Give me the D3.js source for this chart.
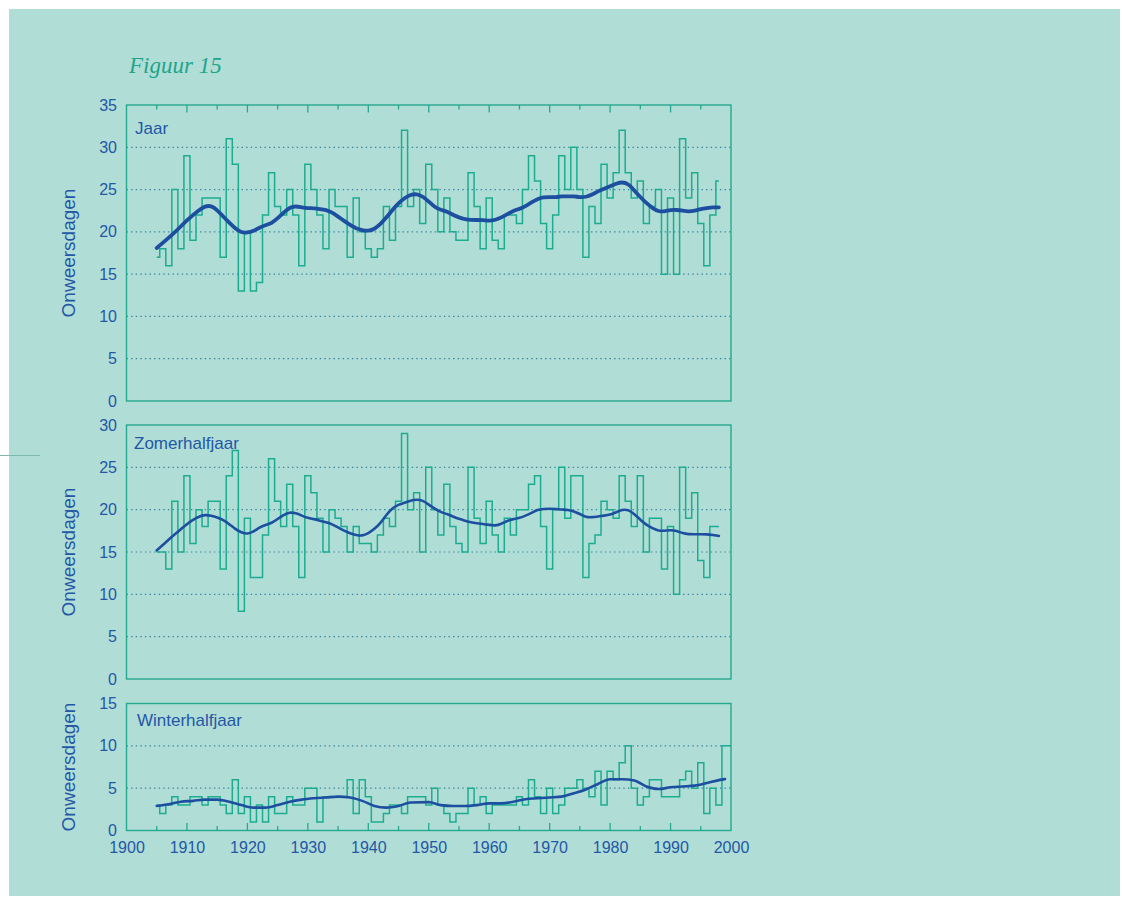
<!DOCTYPE html>
<html><head><meta charset="utf-8">
<script src="https://cdn.jsdelivr.net/npm/d3@7"></script>
<style>
html,body{margin:0;padding:0;background:#fff;}
svg{display:block;}
</style></head>
<body>
<svg id="chart" width="1122" height="898"></svg>
<script>
// ---------- DATA ----------
const yearsMain = d3.range(1905, 1999);          // 1905..1998
const yearsWinter = d3.range(1905, 2001);        // 1905..2000
const xTickLabels = [1900,1910,1920,1930,1940,1950,1960,1970,1980,1990,2000];

const jaarValues = [17,18,16,25,18,29,19,22,24,24, 24,17,31,28,13,20,13,14,22,27,
                    23,22,25,22,16,28,25,22,18,25, 23,23,17,24,20,18,17,18,23,19,
                    23,32,23,25,21,28,25,20,24,20, 19,19,27,23,18,24,19,18,22,22,
                    21,25,29,26,21,18,22,29,25,30, 25,17,23,21,28,24,27,32,27,24,
                    26,21,23,25,15,24,15,31,24,27, 21,16,22,26];
const zomerValues = [15,15,13,21,15,24,16,20,18,21, 21,13,24,27,8,19,12,12,17,26,
                     21,18,23,18,12,24,22,19,15,20, 19,18,15,18,16,16,15,17,19,18,
                     21,29,20,22,15,25,20,17,23,18, 16,15,25,19,16,21,17,15,19,17,
                     20,20,23,24,18,13,20,25,19,24, 24,12,16,17,21,20,19,24,21,18,
                     24,15,19,19,13,18,10,25,19,22, 14,12,18,18];
const winterValues = [3,2,3,4,3,3,4,4,3,4, 4,3,2,6,2,4,1,3,1,4,
                      2,2,4,3,3,5,5,1,4,4, 4,4,6,2,6,4,1,1,2,3,
                      3,2,4,4,4,3,5,3,2,1, 2,2,5,3,4,2,3,3,3,3,
                      4,3,6,4,2,5,2,3,5,5, 6,5,4,7,3,7,6,8,10,5,
                      3,4,6,6,4,4,4,6,7,5, 8,2,5,3,10,10];

const jaarTrendYears = [1905,1908,1910,1912,1913,1914,1915,1916,1917,1918,1919,1920,1921,1922,1923,1924,1925,1926,1927,1928,1929,1930,1931,1932,1933,1934,1935,1936,1937,1938,1939,1940,1941,1942,1943,1944,1945,1946,1947,1948,1949,1950,1951,1952,1953,1954,1955,1956,1957,1958,1959,1960,1961,1962,1963,1964,1965,1966,1967,1968,1969,1970,1971,1972,1973,1974,1975,1976,1977,1978,1979,1980,1981,1982,1983,1984,1985,1986,1987,1988,1989,1990,1991,1992,1993,1994,1995,1996,1997,1998];
const jaarTrend = [18.1,19.9,21.4,22.6,23.05,23.1,22.6,21.8,21.1,20.4,19.9,19.9,20.1,20.5,20.8,21.0,21.6,22.3,22.9,23.05,22.9,22.8,22.8,22.7,22.6,22.3,21.8,21.3,20.8,20.4,20.2,20.1,20.3,20.9,21.7,22.6,23.4,24.0,24.4,24.5,24.2,23.6,22.9,22.6,22.4,22.0,21.7,21.5,21.4,21.4,21.4,21.3,21.4,21.7,22.1,22.5,22.7,23.0,23.5,23.9,24.1,24.1,24.1,24.2,24.2,24.2,24.1,24.1,24.4,24.8,25.1,25.4,25.7,25.9,25.7,24.9,24.1,23.4,22.8,22.4,22.4,22.6,22.6,22.5,22.4,22.5,22.7,22.8,22.9,22.9];

const zomerTrendYears = d3.range(1905, 1999);
const zomerTrend = [15.2,15.8,16.5,17.1,17.7,18.3,18.8,19.2,19.4,19.3, 19.1,18.8,18.3,17.7,17.3,17.1,17.4,17.9,18.2,18.4,
                    18.9,19.4,19.7,19.6,19.3,19.0,18.9,18.7,18.5,18.3, 17.9,17.5,17.2,17.0,16.9,17.2,17.7,18.4,19.4,20.2,
                    20.6,20.8,21.1,21.2,21.1,20.6,20.1,19.7,19.5,19.2, 18.9,18.7,18.5,18.4,18.3,18.2,18.1,18.3,18.7,18.9,
                    19.0,19.3,19.6,20.0,20.1,20.1,20.1,20.0,20.0,19.8, 19.5,19.1,19.1,19.2,19.3,19.4,19.7,20.0,20.0,19.5,
                    18.8,18.2,17.8,17.5,17.5,17.6,17.5,17.2,17.1,17.1, 17.1,17.1,17.0,16.9];

const winterTrendYears = [1905,1907,1909,1911,1913,1915,1917,1919,1921,1923,1925,1927,1929,1931,1933,1935,1937,1939,1941,1943,1945,1947,1950,1952,1954,1956,1958,1960,1962,1964,1966,1968,1970,1972,1974,1976,1978,1980,1982,1984,1986,1988,1990,1992,1994,1996,1998,1999];
const winterTrend = [2.9,3.1,3.4,3.5,3.65,3.65,3.4,3.0,2.7,2.7,3.0,3.4,3.65,3.8,3.9,4.0,3.9,3.5,2.9,2.7,2.9,3.3,3.35,3.0,2.9,2.9,3.0,3.2,3.2,3.4,3.7,3.8,3.9,4.0,4.4,4.85,5.5,6.05,6.05,5.9,5.2,4.9,5.1,5.2,5.3,5.6,5.95,6.07];

const panelLabels = ["Jaar", "Zomerhalfjaar", "Winterhalfjaar"];
const yMaxima = [35, 30, 15];
const yTitle = "Onweersdagen";
const figTitle = "Figuur 15";

// ---------- STYLE ----------
const BG = "#b0ddd6";
const STEP = "#1cad90";
const TREND = "#1d4fa0";
const TEXT = "#2457a6";
const FRAME = "#25a98f";
const GRID = "#3a86a0";

const svg = d3.select("#chart");
svg.append("rect").attr("x", 9).attr("y", 9).attr("width", 1111).attr("height", 887).attr("fill", BG);
svg.append("line").attr("x1", 0).attr("x2", 40).attr("y1", 455.5).attr("y2", 455.5)
   .attr("stroke", "#7fb8ae").attr("stroke-width", 1);

svg.append("text").attr("x", 129).attr("y", 73)
   .attr("font-family", "'Liberation Serif', 'DejaVu Serif', serif")
   .attr("font-style", "italic").attr("font-size", 23).attr("fill", "#1ea58b")
   .text(figTitle);

const x = d3.scaleLinear().domain([1900, 2000]).range([126.5, 731]);

const panels = [
  {top: 105, bottom: 401, max: yMaxima[0], years: yearsMain, vals: jaarValues, tY: jaarTrendYears, tV: jaarTrend, tw: 3.8, label: panelLabels[0], lx: 135, ly: 134},
  {top: 425, bottom: 679, max: yMaxima[1], years: yearsMain, vals: zomerValues, tY: zomerTrendYears, tV: zomerTrend, tw: 2.6, label: panelLabels[1], lx: 134, ly: 449},
  {top: 703.5, bottom: 830.5, max: yMaxima[2], years: yearsWinter, vals: winterValues, tY: winterTrendYears, tV: winterTrend, tw: 2.6, label: panelLabels[2], lx: 137, ly: 726}
];

panels.forEach((p, i) => {
  const y = d3.scaleLinear().domain([0, p.max]).range([p.bottom, p.top]);
  const g = svg.append("g");

  // gridlines
  const gridVals = d3.range(5, p.max, 5);
  g.selectAll("line.grid").data(gridVals).join("line")
    .attr("x1", x(1900)).attr("x2", x(2000))
    .attr("y1", d => y(d)).attr("y2", d => y(d))
    .attr("stroke", GRID).attr("stroke-width", 1.2).attr("stroke-dasharray", "1.4,3.2");

  // frame
  g.append("rect").attr("x", x(1900)).attr("y", p.top)
    .attr("width", x(2000) - x(1900)).attr("height", p.bottom - p.top)
    .attr("fill", "none").attr("stroke", FRAME).attr("stroke-width", 1.4);

  // y axis
  const ax = g.append("g").attr("transform", `translate(${x(1900)},0)`)
    .call(d3.axisLeft(y).tickValues(d3.range(0, p.max + 1, 5)).tickSize(0).tickPadding(9.5));
  ax.select(".domain").remove();
  ax.selectAll("text").attr("font-family", "'Liberation Sans', Arial, sans-serif")
    .attr("font-size", 16).attr("fill", TEXT);

  // y title
  g.append("text")
    .attr("transform", `translate(75,${(p.top + p.bottom) / 2}) rotate(-90)`)
    .attr("text-anchor", "middle")
    .attr("font-family", "'Liberation Sans', Arial, sans-serif")
    .attr("font-size", 19).attr("fill", TEXT).text(yTitle);

  // panel label
  g.append("text").attr("x", p.lx).attr("y", p.ly)
    .attr("font-family", "'Liberation Sans', Arial, sans-serif")
    .attr("font-size", 17).attr("fill", TEXT).text(p.label);

  // step line
  const stepLine = d3.line().x((d, k) => x(p.years[k])).y(d => y(d)).curve(d3.curveStep);
  g.append("path").datum(p.vals).attr("d", stepLine)
    .attr("fill", "none").attr("stroke", STEP).attr("stroke-width", 1.5);

  // trend line
  const trendLine = d3.line().x((d, k) => x(p.tY[k])).y(d => y(d))
    .curve(i === 2 ? d3.curveMonotoneX : d3.curveBasis);
  g.append("path").datum(p.tV).attr("d", trendLine)
    .attr("fill", "none").attr("stroke", TREND).attr("stroke-width", p.tw)
    .attr("stroke-linecap", "round").attr("stroke-linejoin", "round");

  // inner ticks (top of first panel, bottom of last)
  const tickYears = d3.range(1905, 2000, 5);
  if (i === 0) {
    g.selectAll("line.tt").data(tickYears).join("line")
      .attr("x1", d => x(d)).attr("x2", d => x(d))
      .attr("y1", p.top).attr("y2", d => p.top + (d % 10 === 0 ? 7.5 : 4.5))
      .attr("stroke", FRAME).attr("stroke-width", 1.3);
  }
  if (i === 2) {
    g.selectAll("line.bt").data(tickYears).join("line")
      .attr("x1", d => x(d)).attr("x2", d => x(d))
      .attr("y1", p.bottom).attr("y2", d => p.bottom - (d % 10 === 0 ? 7.5 : 4.5))
      .attr("stroke", FRAME).attr("stroke-width", 1.3);
    const xa = g.append("g").attr("transform", `translate(0,${p.bottom})`)
      .call(d3.axisBottom(x).tickValues(xTickLabels).tickFormat(d3.format("d")).tickSize(0).tickPadding(11));
    xa.select(".domain").remove();
    xa.selectAll("text").attr("font-family", "'Liberation Sans', Arial, sans-serif")
      .attr("font-size", 16).attr("fill", TEXT);
  }
});
</script>
</body></html>
